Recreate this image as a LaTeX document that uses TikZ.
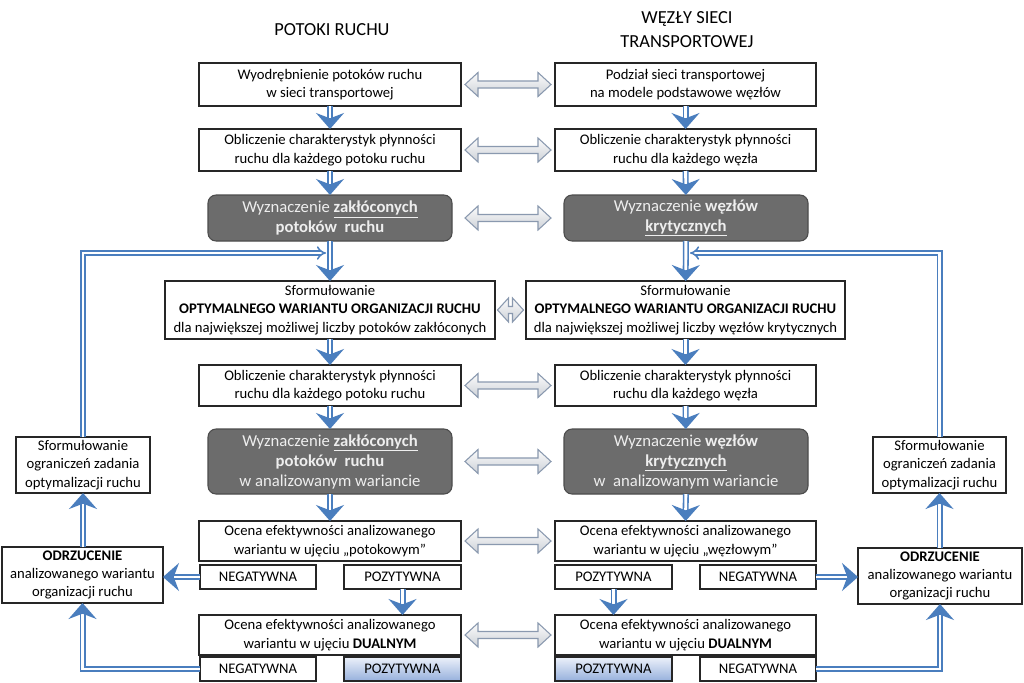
\documentclass[tikz,border=0pt]{standalone}
\usepackage{fontspec}
\setmainfont{Carlito}
\usetikzlibrary{arrows.meta,calc}
\definecolor{flowblue}{RGB}{74,126,190}
\definecolor{darkfill}{RGB}{108,108,108}
\definecolor{darktext}{RGB}{238,238,238}
\definecolor{grayfill}{RGB}{205,209,215}
\definecolor{grayline}{RGB}{138,153,175}
\definecolor{pozlight}{RGB}{236,241,250}
\definecolor{pozdark}{RGB}{150,176,220}
\tikzset{
  box/.style={draw=black!85, line width=0.8pt, fill=white, inner sep=0pt, outer sep=0pt,
    align=center, font=\fontsize{11}{13.8}\selectfont},
  darkbox/.style={box, draw=black!70, fill=darkfill, rounded corners=6pt, text=darktext,
    font=\fontsize{12.5}{15}\selectfont},
  pozbox/.style={box, top color=pozlight, bottom color=pozdark},
  heading/.style={align=center, font=\fontsize{13.8}{18}\selectfont},
  flow/.style={draw=flowblue, double=white, double distance=2.2pt, line width=1.15pt,
    -{Stealth[length=12pt,width=21pt,inset=4pt]}},
  loopflow/.style={draw=flowblue, double=white, double distance=2.2pt, line width=1.15pt,
    -{Implies}},
  grayarrow/.style={draw=grayline, line width=0.8pt, top color=white!92!grayfill, bottom color=grayfill}
}
% box: [style], name, x1, y1, x2, y2, text  (pixel coordinates)
\newcommand\bx[7][]{\node[box,#1, minimum width={(#5-#3)*0.75pt}, minimum height={(#6-#4)*0.75pt}]
  (#2) at ({(#3+#5)/2},{(#4+#6)/2}) {#7};}
% gray double block arrow: left node, right node, half length, head length
\newcommand\dblarrow[4]{%
  \coordinate (m#1) at ($(#1.east)!0.5!(#2.west)$);
  \draw[grayarrow] ($(m#1)+(-#3,0)$) -- ++(#4,-12) -- ++(0,8.5) -- ($(m#1)+(#3-#4,-3.5)$)
    -- ++(0,-8.5) -- ($(m#1)+(#3,0)$) -- ++(-#4,12) -- ++(0,-8.5) -- ($(m#1)+(-#3+#4,3.5)$)
    -- ++(0,8.5) -- cycle;}
\begin{document}
\begin{tikzpicture}[x=0.75pt,y=-0.75pt]
\fill[white] (0,0) rectangle (1024,682);
\useasboundingbox (0,0) rectangle (1024,682);

\node[heading] (hL) at (332,30) {POTOKI RUCHU};
\node[heading] (hR) at (687,30) {WĘZŁY SIECI\\TRANSPORTOWEJ};

% left column
\bx{L1}{199}{63}{461}{106}{Wyodrębnienie potoków ruchu\\w sieci transportowej}
\bx{L2}{199}{129}{461}{171}{Obliczenie charakterystyk płynności\\ruchu dla każdego potoku ruchu}
\bx[darkbox]{L3}{208}{195}{452}{241}{Wyznaczenie \textbf{\underline{zakłóconych}}\\\textbf{potoków\ \ ruchu}}
\bx{L4}{165}{281}{495}{339}{Sformułowanie\\\textbf{OPTYMALNEGO WARIANTU ORGANIZACJI RUCHU}\\dla największej możliwej liczby potoków zakłóconych}
\bx{L5}{199}{365}{461}{406}{Obliczenie charakterystyk płynności\\ruchu dla każdego potoku ruchu}
\bx[darkbox]{L6}{208}{429}{452}{494}{Wyznaczenie \textbf{\underline{zakłóconych}}\\\textbf{potoków\ \ ruchu}\\w analizowanym wariancie}
\bx{L7}{199}{521}{461}{561}{Ocena efektywności analizowanego\\wariantu w ujęciu „potokowym”}
\bx{L7N}{200}{565}{316}{589}{NEGATYWNA}
\bx{L7P}{344}{565}{461}{589}{POZYTYWNA}
\bx{L8}{199}{615}{461}{655}{Ocena efektywności analizowanego\\wariantu w ujęciu \textbf{DUALNYM}}
\bx{L8N}{200}{657}{316}{681}{NEGATYWNA}
\bx[pozbox]{L8P}{344}{657}{461}{681}{POZYTYWNA}
\bx{SL}{16}{437}{150}{493}{Sformułowanie\\ograniczeń zadania\\optymalizacji ruchu}
\bx{OL}{2}{547}{163}{603}{\textbf{ODRZUCENIE}\\analizowanego wariantu\\organizacji ruchu}

% right column
\bx{R1}{555}{63}{816}{106}{Podział sieci transportowej\\na modele podstawowe węzłów}
\bx{R2}{555}{129}{816}{171}{Obliczenie charakterystyk płynności\\ruchu dla każdego węzła}
\bx[darkbox]{R3}{564}{195}{808}{241}{Wyznaczenie \textbf{węzłów}\\\textbf{\underline{krytycznych}}}
\bx{R4}{526}{281}{845}{339}{Sformułowanie\\\textbf{OPTYMALNEGO WARIANTU ORGANIZACJI RUCHU}\\dla największej możliwej liczby węzłów krytycznych}
\bx{R5}{555}{365}{816}{406}{Obliczenie charakterystyk płynności\\ruchu dla każdego węzła}
\bx[darkbox]{R6}{564}{429}{808}{494}{Wyznaczenie \textbf{węzłów}\\\textbf{\underline{krytycznych}}\\w\ \ analizowanym wariancie}
\bx{R7}{555}{521}{816}{561}{Ocena efektywności analizowanego\\wariantu w ujęciu „węzłowym”}
\bx{R7P}{555}{565}{672}{589}{POZYTYWNA}
\bx{R7N}{700}{565}{816}{589}{NEGATYWNA}
\bx{R8}{555}{615}{816}{655}{Ocena efektywności analizowanego\\wariantu w ujęciu \textbf{DUALNYM}}
\bx[pozbox]{R8P}{555}{657}{672}{681}{POZYTYWNA}
\bx{R8N}{700}{657}{816}{681}{NEGATYWNA}
\bx{SR}{873}{437}{1006}{493}{Sformułowanie\\ograniczeń zadania\\optymalizacji ruchu}
\bx{OR}{858}{548}{1022}{604}{\textbf{ODRZUCENIE}\\analizowanego wariantu\\organizacji ruchu}

% gray double arrows between columns
\dblarrow{L1}{R1}{43}{13}
\dblarrow{L2}{R2}{43}{13}
\dblarrow{L3}{R3}{43}{13}
\dblarrow{L4}{R4}{13}{11}
\dblarrow{L5}{R5}{43}{13}
\dblarrow{L6}{R6}{43}{13}
\dblarrow{L7}{R7}{43}{13}
\dblarrow{L8}{R8}{43}{13}

% main flow, left
\draw[flow] (L1) -- (L2);
\draw[flow] (L2) -- (L3);
\draw[flow] (L3) -- (L4);
\draw[flow] (L4) -- (L5);
\draw[flow] (L5) -- (L6);
\draw[flow] (L6) -- (L7);
\draw[flow] (L7P) -- (L7P |- L8.north);
% main flow, right
\draw[flow] (R1) -- (R2);
\draw[flow] (R2) -- (R3);
\draw[flow] (R3) -- (R4);
\draw[flow] (R4) -- (R5);
\draw[flow] (R5) -- (R6);
\draw[flow] (R6) -- (R7);
\draw[flow] (R7P) -- (R7P |- R8.north);

% rejection paths, left
\draw[flow] (L7N.west) -- (OL.east |- L7N.west);
\draw[flow] (L8N.west) -| (OL.south);
\draw[flow] (SL.south |- OL.north) -- (SL.south);
\draw[loopflow] (SL.north) |- ($(L3.south)+(-4,12)$);
% rejection paths, right
\draw[flow] (R7N.east) -- (OR.west |- R7N.east);
\draw[flow] (R8N.east) -| (OR.south);
\draw[flow] (SR.south |- OR.north) -- (SR.south);
\draw[loopflow] (SR.north) |- ($(R3.south)+(4,12)$);
\end{tikzpicture}
\end{document}
